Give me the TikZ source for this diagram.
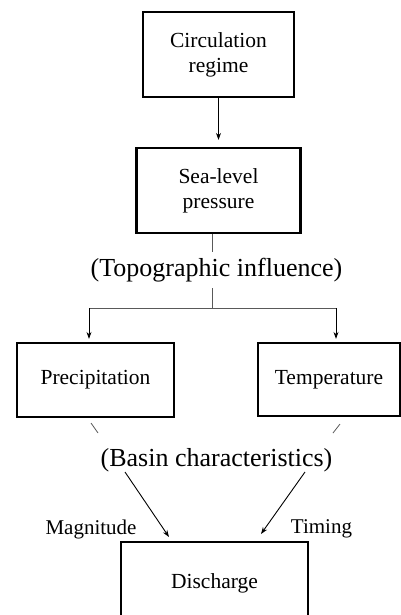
\documentclass[tikz,border=0pt]{standalone}
\usepackage{fontspec}
\setmainfont{Liberation Serif}
\usetikzlibrary{arrows.meta}

\tikzset{
	box/.style={draw=black, line width=2.2pt, align=center, inner sep=0pt, font=\fontsize{21.5}{25}\selectfont},
	note/.style={inner sep=6pt, font=\fontsize{26}{30}\selectfont},
	tag/.style={inner sep=0pt, font=\fontsize{21}{25}\selectfont},
	link/.style={-, line width=0.8pt, black!65},
	flow/.style={-{Stealth[length=7pt,width=5pt]}, line width=0.9pt, black},
}

\begin{document}
\begin{tikzpicture}[x=1pt, y=-1pt]
	\path[use as bounding box, clip] (0, 0) rectangle (401, 615);
	
	\node[box, minimum width=151pt, minimum height=85pt] (circ) at (218.5, 54.5) {Circulation\\regime};
	\node[box, minimum width=164pt, minimum height=85pt] (sea) at (218.5, 190.5) {Sea-level\\pressure};
	\node[note] (topo) at (216.5, 270) {(Topographic influence)};
	\node[box, minimum width=157pt, minimum height=74pt] (prec) at (95.5, 380) {Precipitation};
	\node[box, minimum width=142pt, minimum height=73pt] (temp) at (329, 379.5) {Temperature};
	\node[note] (basin) at (216.5, 460) {(Basin characteristics)};
	\node[tag] (mag) at (91, 529) {Magnitude};
	\node[tag] (tim) at (321.5, 529) {Timing};
	\node[box, minimum width=187pt, minimum height=82pt] (dis) at (214.5, 583) {Discharge};
	
	\coordinate (split) at (212, 308);
	\coordinate (lft) at (89, 308);
	\coordinate (rgt) at (336, 308);
	\coordinate (pa) at (91, 423);
	\coordinate (pb) at (98, 433);
	\coordinate (ta) at (340, 424);
	\coordinate (tb) at (333, 433);
	\coordinate (ma) at (125, 472);
	\coordinate (mb) at (169, 537);
	\coordinate (ga) at (305, 472);
	\coordinate (gb) at (261, 534);
	
	\path[flow, shorten >=7pt] (circ) edge (sea);
	\path[link] (sea.south -| split) edge (topo.north -| split);
	\path[link] (topo.south -| split) edge (split);
	\path[link] (lft) edge (rgt);
	\path[flow, shorten >=3pt] (lft) edge (lft |- prec.north);
	\path[flow, shorten >=3pt] (rgt) edge (rgt |- temp.north);
	\path[link] (pa) edge (pb);
	\path[link] (ta) edge (tb);
	\path[flow] (ma) edge (mb);
	\path[flow] (ga) edge (gb);

\end{tikzpicture}
\end{document}
